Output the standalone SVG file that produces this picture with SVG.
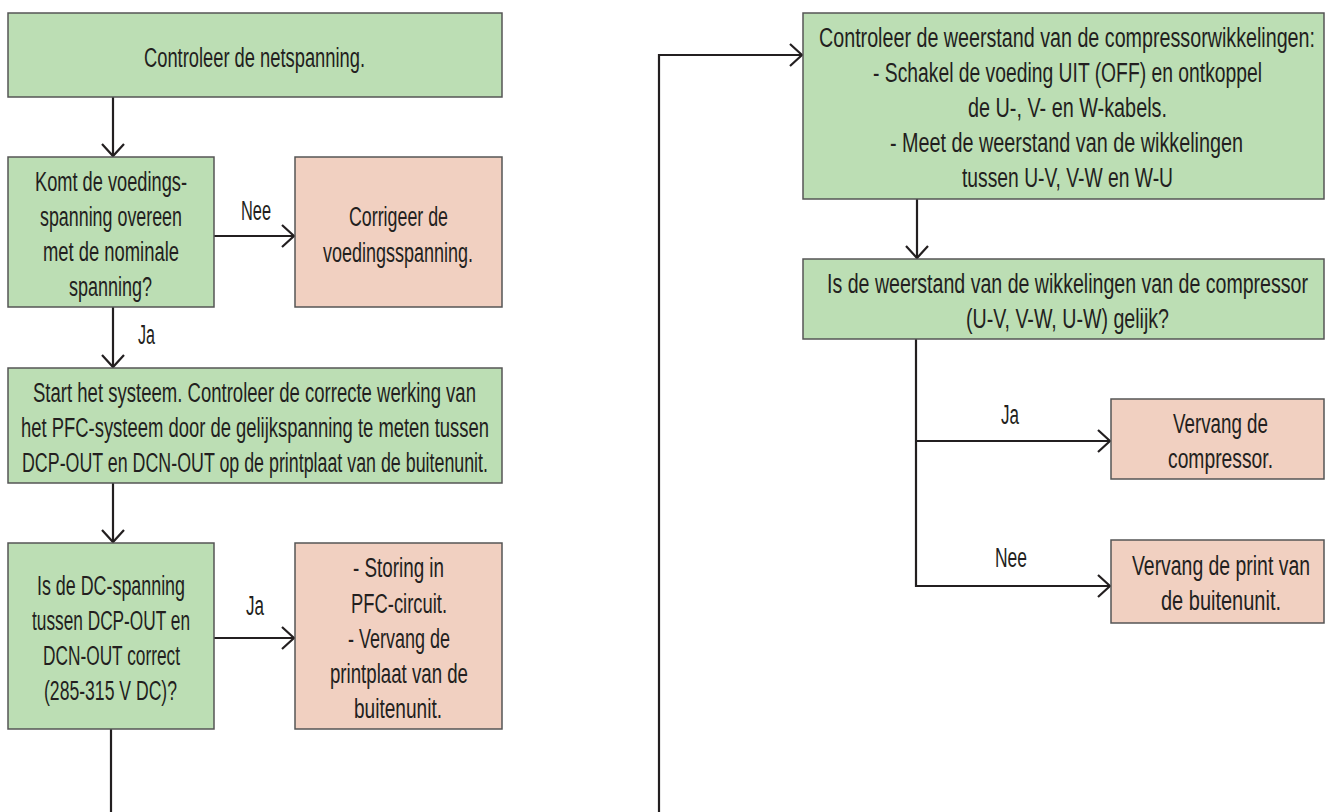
<svg xmlns="http://www.w3.org/2000/svg" width="1325" height="812" viewBox="0 0 1325 812">
<defs>
<style>
.g{fill:#bcdeb4;stroke:#555555;stroke-width:1.5}
.p{fill:#f1d0c1;stroke:#555555;stroke-width:1.5}
text{font-family:"Liberation Sans",Arial,sans-serif;font-size:27px;fill:#231f20}
.c{fill:none;stroke:#231f20;stroke-width:2.2}
</style>
<marker id="ah" markerUnits="userSpaceOnUse" markerWidth="28" markerHeight="28" viewBox="-14 -14 28 28" refX="0" refY="0" orient="auto">
<path d="M-12,-11 L0,0 L-12,11" fill="none" stroke="#231f20" stroke-width="2.2"/>
</marker>
</defs>
<rect width="1325" height="812" fill="#ffffff"/>
<g id="connectors">
<path class="c" d="M113,97 V156" marker-end="url(#ah)"/>
<path class="c" d="M214,236 H294" marker-end="url(#ah)"/>
<path class="c" d="M113,307 V367" marker-end="url(#ah)"/>
<path class="c" d="M113,483 V542" marker-end="url(#ah)"/>
<path class="c" d="M214,638 H294" marker-end="url(#ah)"/>
<path class="c" d="M111,729 V812"/>
<path class="c" d="M659,812 V55 H802" marker-end="url(#ah)"/>
<path class="c" d="M917,199 V258" marker-end="url(#ah)"/>
<path class="c" d="M916,339 V586 H1110" marker-end="url(#ah)"/>
<path class="c" d="M916,441 H1110" marker-end="url(#ah)"/>
<g transform="scale(0.68,1)">
<text x="354.41" y="220" textLength="44.12" lengthAdjust="spacingAndGlyphs">Nee</text>
<text x="202.94" y="344" textLength="25" lengthAdjust="spacingAndGlyphs">Ja</text>
<text x="361.76" y="615" textLength="26.47" lengthAdjust="spacingAndGlyphs">Ja</text>
<text x="1472.06" y="424" textLength="26.47" lengthAdjust="spacingAndGlyphs">Ja</text>
<text x="1463.24" y="567" textLength="47.06" lengthAdjust="spacingAndGlyphs">Nee</text>
</g>
</g>
<g id="n1">
<rect class="g" x="8" y="13" width="494" height="84"/>
<text transform="scale(0.68,1)" x="211.76" y="67" textLength="325" lengthAdjust="spacingAndGlyphs">Controleer de netspanning.</text>
</g>
<g id="n2">
<rect class="g" x="8" y="157" width="206" height="150"/>
<g transform="scale(0.68,1)">
<text x="51.47" y="191" textLength="223.53" lengthAdjust="spacingAndGlyphs">Komt de voedings-</text>
<text x="58.82" y="226" textLength="208.82" lengthAdjust="spacingAndGlyphs">spanning overeen</text>
<text x="63.24" y="261" textLength="200" lengthAdjust="spacingAndGlyphs">met de nominale</text>
<text x="101.47" y="296" textLength="122.06" lengthAdjust="spacingAndGlyphs">spanning?</text>
</g>
</g>
<g id="n3">
<rect class="p" x="295" y="157" width="207" height="150"/>
<g transform="scale(0.68,1)">
<text x="513.24" y="226" textLength="145.59" lengthAdjust="spacingAndGlyphs">Corrigeer de</text>
<text x="475" y="262" textLength="220.59" lengthAdjust="spacingAndGlyphs">voedingsspanning.</text>
</g>
</g>
<g id="n4">
<rect class="g" x="8" y="368" width="494" height="115"/>
<g transform="scale(0.68,1)">
<text x="48.53" y="402" textLength="651.47" lengthAdjust="spacingAndGlyphs">Start het systeem. Controleer de correcte werking van</text>
<text x="30.88" y="437" textLength="688.24" lengthAdjust="spacingAndGlyphs">het PFC-systeem door de gelijkspanning te meten tussen</text>
<text x="32.35" y="472" textLength="685.29" lengthAdjust="spacingAndGlyphs">DCP-OUT en DCN-OUT op de printplaat van de buitenunit.</text>
</g>
</g>
<g id="n5">
<rect class="g" x="8" y="543" width="206" height="186"/>
<g transform="scale(0.68,1)">
<text x="54.41" y="595" textLength="217.65" lengthAdjust="spacingAndGlyphs">Is de DC-spanning</text>
<text x="47.06" y="630" textLength="232.35" lengthAdjust="spacingAndGlyphs">tussen DCP-OUT en</text>
<text x="63.24" y="665" textLength="201.47" lengthAdjust="spacingAndGlyphs">DCN-OUT correct</text>
<text x="64.71" y="700" textLength="195.59" lengthAdjust="spacingAndGlyphs">(285-315 V DC)?</text>
</g>
</g>
<g id="n6">
<rect class="p" x="295" y="543" width="207" height="186"/>
<g transform="scale(0.68,1)">
<text x="519.12" y="577" textLength="133.82" lengthAdjust="spacingAndGlyphs">- Storing in</text>
<text x="516.18" y="613" textLength="141.18" lengthAdjust="spacingAndGlyphs">PFC-circuit.</text>
<text x="511.76" y="648" textLength="150" lengthAdjust="spacingAndGlyphs">- Vervang de</text>
<text x="485.29" y="683" textLength="202.94" lengthAdjust="spacingAndGlyphs">printplaat van de</text>
<text x="520.59" y="718" textLength="129.41" lengthAdjust="spacingAndGlyphs">buitenunit.</text>
</g>
</g>
<g id="n7">
<rect class="g" x="803" y="13" width="521" height="186"/>
<g transform="scale(0.68,1)">
<text x="1204.41" y="47" textLength="729.41" lengthAdjust="spacingAndGlyphs">Controleer de weerstand van de compressorwikkelingen:</text>
<text x="1283.82" y="82" textLength="572.06" lengthAdjust="spacingAndGlyphs">- Schakel de voeding UIT (OFF) en ontkoppel</text>
<text x="1423.53" y="117" textLength="292.65" lengthAdjust="spacingAndGlyphs">de U-, V- en W-kabels.</text>
<text x="1308.82" y="152" textLength="519.12" lengthAdjust="spacingAndGlyphs">- Meet de weerstand van de wikkelingen</text>
<text x="1414.71" y="187" textLength="310.29" lengthAdjust="spacingAndGlyphs">tussen U-V, V-W en W-U</text>
</g>
</g>
<g id="n8">
<rect class="g" x="803" y="259" width="521" height="80"/>
<g transform="scale(0.68,1)">
<text x="1216.18" y="293" textLength="707.35" lengthAdjust="spacingAndGlyphs">Is de weerstand van de wikkelingen van de compressor</text>
<text x="1420.59" y="328" textLength="298.53" lengthAdjust="spacingAndGlyphs">(U-V, V-W, U-W) gelijk?</text>
</g>
</g>
<g id="n9">
<rect class="p" x="1111" y="399" width="213" height="80"/>
<g transform="scale(0.68,1)">
<text x="1725" y="433" textLength="139.71" lengthAdjust="spacingAndGlyphs">Vervang de</text>
<text x="1717.65" y="468" textLength="154.41" lengthAdjust="spacingAndGlyphs">compressor.</text>
</g>
</g>
<g id="n10">
<rect class="p" x="1111" y="540" width="213" height="83"/>
<g transform="scale(0.68,1)">
<text x="1664.71" y="575" textLength="261.76" lengthAdjust="spacingAndGlyphs">Vervang de print van</text>
<text x="1707.35" y="610" textLength="176.47" lengthAdjust="spacingAndGlyphs">de buitenunit.</text>
</g>
</g>
</svg>
